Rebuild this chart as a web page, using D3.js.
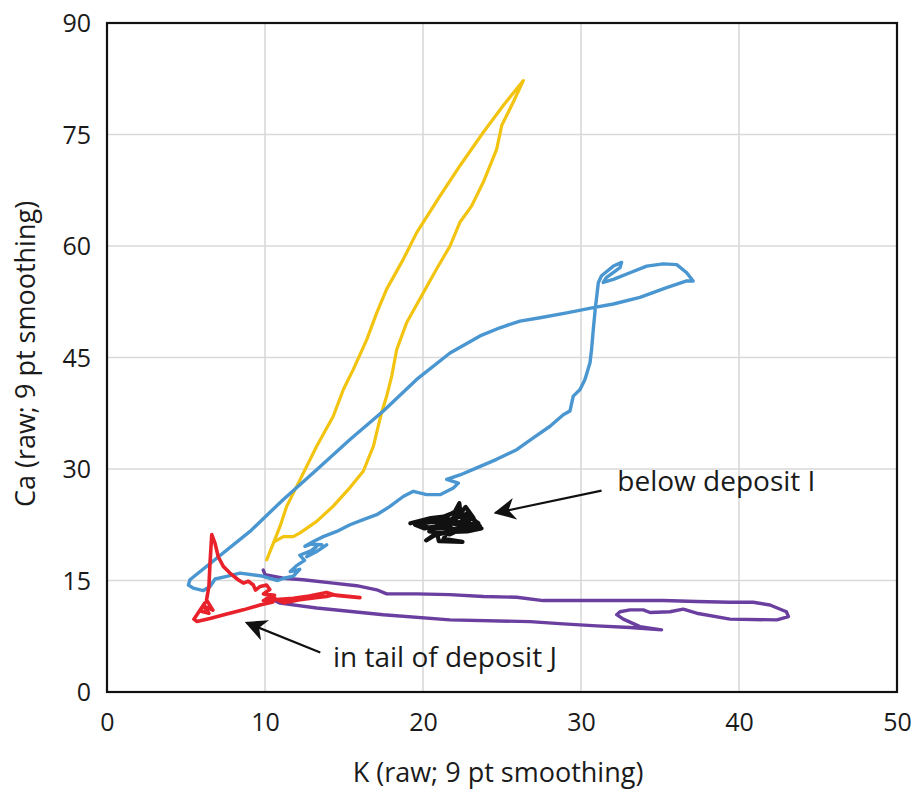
<!DOCTYPE html>
<html>
<head>
<meta charset="utf-8">
<script src="https://cdn.jsdelivr.net/npm/d3@7"></script>
<style>
  html, body { margin: 0; padding: 0; background: #fff; }
  svg { display: block; }
  text { font-family: "Open Sans", "Noto Sans", sans-serif; fill: #1a1a1a; }
</style>
</head>
<body>
<svg id="chart" width="922" height="794"></svg>
<script>
// ---------- data (K, Ca) ----------
const xTicks = [0, 10, 20, 30, 40, 50];
const yTicks = [0, 15, 30, 45, 60, 75, 90];
const xTitle = "K (raw; 9 pt smoothing)";
const yTitle = "Ca (raw; 9 pt smoothing)";

const yellowK  = [10.11,10.53,10.95,11.37,12.22,13.27,14.32,14.96,15.59,16.44,17.07,17.70,18.75,19.60,21.08,22.34,23.82,25.08,26.35,25.70,24.98,24.66,23.82,23.08,22.34,21.71,20.86,20.02,18.97,18.34,18.02,17.70,17.38,17.17,16.86,16.22,15.38,14.32,13.27,12.22,11.79,11.16,10.63];
const yellowCa = [17.79,20.04,22.28,24.97,28.57,33.06,37.10,40.70,43.40,47.40,51.00,54.20,58.20,61.80,66.75,70.80,75.30,78.90,82.25,79.30,76.20,73.00,68.60,65.40,63.20,60.00,56.90,53.70,49.70,46.10,42.50,39.80,37.60,35.80,33.06,29.70,27.50,25.00,22.95,21.40,20.90,20.90,20.25];

const blueK  = [13.90,13.27,12.64,13.27,12.90,12.20,12.50,12.00,11.60,12.20,11.80,11.20,10.80,9.80,8.42,7.58,6.84,6.52,6.10,5.46,5.15,5.25,9.05,11.16,13.27,15.38,17.49,19.60,21.71,23.61,24.87,26.14,27.41,29.10,30.78,32.05,33.73,35.42,36.69,37.10,36.69,36.06,35.20,34.16,33.10,32.05,31.41,31.60,32.47,32.57,32.05,31.30,31.10,31.00,30.90,30.78,30.67,30.57,30.25,29.94,29.51,29.30,28.88,28.04,26.98,25.93,24.66,23.40,22.34,21.50,22.24,21.92,21.08,20.23,19.39,18.75,17.91,17.07,16.22,15.38,14.54,13.69,13.06,12.53,12.90,13.60];
const blueCa = [19.80,18.90,18.20,19.60,19.00,18.40,17.70,17.00,16.20,16.50,15.60,15.30,15.00,15.60,16.00,15.55,15.20,14.20,13.65,13.97,14.40,15.10,21.60,25.90,29.90,33.96,37.80,42.05,45.60,47.90,49.00,49.90,50.35,51.00,51.70,52.20,53.10,54.40,55.30,55.30,56.40,57.50,57.60,57.30,56.40,55.50,55.10,55.75,57.10,57.80,57.30,56.00,55.10,53.30,51.50,48.80,46.10,44.30,42.05,40.70,39.80,37.80,37.30,35.75,34.20,32.60,31.30,30.15,29.20,28.60,28.10,27.45,26.55,26.55,27.00,26.30,24.97,23.85,23.20,22.50,21.60,20.90,20.25,19.60,19.90,19.80];

const purpleK  = [9.89,10.00,11.16,12.42,14.32,15.80,17.07,17.70,19.60,21.70,23.82,25.93,27.60,30.99,35.20,37.32,39.43,40.90,41.96,43.00,43.13,42.40,39.43,37.32,36.47,35.63,34.37,33.94,33.10,32.47,32.26,32.68,33.73,35.10,33.10,30.99,28.88,26.77,21.71,17.49,13.27,10.95,10.53];
const purpleCa = [16.40,15.80,15.30,15.10,14.65,14.30,13.75,13.20,13.20,13.10,12.85,12.75,12.30,12.30,12.30,12.17,12.08,12.08,11.70,10.80,10.15,9.70,9.80,10.60,11.15,10.80,10.70,11.05,11.05,10.80,10.40,9.80,8.80,8.36,8.67,8.90,9.16,9.47,9.70,10.40,11.30,11.95,12.40];

const redK  = [16.01,14.50,13.90,12.80,11.80,10.50,10.10,10.60,9.90,10.30,10.10,9.70,9.40,9.26,8.95,8.63,8.30,7.78,7.36,7.04,6.84,6.63,6.52,6.45,6.30,6.70,6.10,6.45,5.90,6.20,5.50,5.68,6.52,7.58,8.63,9.68,10.50,9.90,10.40,11.20,12.20,13.20,13.90,14.30,16.01];
const redCa = [12.70,13.00,13.40,12.90,12.60,12.40,12.60,13.00,13.20,13.80,14.40,14.20,13.70,14.40,14.90,14.65,15.10,16.00,16.90,18.20,20.00,21.16,17.35,14.20,12.40,11.00,11.60,10.60,10.90,12.00,9.80,9.50,9.90,10.50,11.05,11.70,12.10,12.30,12.80,12.00,12.40,12.70,12.85,13.07,12.70];

const blackK  = [19.20,20.50,21.30,22.00,22.30,22.40,22.90,23.30,23.60,22.60,21.60,20.30,19.60,20.80,21.90,22.60,23.00,23.70,22.80,21.50,20.60,20.20,20.90,21.00,22.50,21.30,21.80,22.20,23.20,22.70,22.00,21.00,20.10,19.50,20.60,21.40,22.10,22.90,23.50,22.40,21.20,20.40,21.70,22.80,22.30,21.10];
const blackCa = [22.70,23.40,23.60,24.20,25.40,23.50,24.20,23.00,22.30,22.00,21.90,22.20,22.60,22.90,23.30,23.80,22.60,22.00,21.60,21.50,21.00,20.40,21.30,20.30,20.20,20.60,22.60,22.80,23.40,24.90,23.00,22.40,22.00,22.50,23.10,22.20,23.90,23.60,22.70,22.40,23.00,21.60,21.20,22.30,24.60,23.20];

const seriesColors = ["#f2c30f", "#4a96d1", "#6a3fa0", "#e8212b", "#111111"];

// ---------- layout ----------
const L = 107, R = 897, T = 23, B = 692;

const svg = d3.select("#chart");
const x = d3.scaleLinear().domain([0, 50]).range([L, R]);
const y = d3.scaleLinear().domain([0, 90]).range([B, T]);

// grid
const g = svg.append("g");
g.selectAll("line.vx").data(xTicks.slice(1, -1)).join("line")
  .attr("x1", d => x(d)).attr("x2", d => x(d)).attr("y1", T).attr("y2", B)
  .attr("stroke", "#d9d9d9").attr("stroke-width", 1.6);
g.selectAll("line.hy").data(yTicks.slice(1, -1)).join("line")
  .attr("y1", d => y(d)).attr("y2", d => y(d)).attr("x1", L).attr("x2", R)
  .attr("stroke", "#d9d9d9").attr("stroke-width", 1.6);

// axes (labels only, no tick marks)
const xAxis = d3.axisBottom(x).tickValues(xTicks).tickSize(0).tickPadding(0);
const yAxis = d3.axisLeft(y).tickValues(yTicks).tickSize(0).tickPadding(0);
const xa = svg.append("g").attr("transform", `translate(0,${B})`).call(xAxis);
const ya = svg.append("g").attr("transform", `translate(${L},0)`).call(yAxis);
[xa, ya].forEach(a => { a.select(".domain").remove(); });
xa.selectAll("text").attr("font-size", 25).attr("dy", null).attr("y", 39)
  .attr("font-family", '"Open Sans", sans-serif').attr("fill", "#1a1a1a");
ya.selectAll("text").attr("font-size", 25).attr("dy", "0.35em").attr("x", -16)
  .attr("font-family", '"Open Sans", sans-serif').attr("fill", "#1a1a1a");

// series
const line = d3.line().x(d => x(d[0])).y(d => y(d[1]));
const allSeries = [
  d3.zip(yellowK, yellowCa),
  d3.zip(blueK, blueCa),
  d3.zip(purpleK, purpleCa),
  d3.zip(redK, redCa),
  d3.zip(blackK, blackCa)
];
const widths = [3.2, 3.4, 3.4, 3.6, 4.2];
[2, 0, 1, 3, 4].forEach(i => {
  svg.append("path").datum(allSeries[i])
    .attr("d", line)
    .attr("fill", "none")
    .attr("stroke", seriesColors[i])
    .attr("stroke-width", widths[i])
    .attr("stroke-linejoin", "round")
    .attr("stroke-linecap", "round");
});

// frame
svg.append("rect").attr("x", L).attr("y", T).attr("width", R - L).attr("height", B - T)
  .attr("fill", "none").attr("stroke", "#111").attr("stroke-width", 2.2);

// axis titles
svg.append("text").attr("x", 498).attr("y", 782).attr("text-anchor", "middle")
  .attr("font-size", 27).text(xTitle);
svg.append("text").attr("transform", `translate(35,354) rotate(-90)`)
  .attr("text-anchor", "middle").attr("font-size", 27).text(yTitle);

// annotations
const defs = svg.append("defs");
defs.append("marker").attr("id", "ah").attr("viewBox", "0 0 10 10")
  .attr("refX", 9).attr("refY", 5).attr("markerWidth", 22).attr("markerHeight", 22)
  .attr("markerUnits", "userSpaceOnUse").attr("orient", "auto")
  .append("path").attr("d", "M0,0 L10,5 L0,10 L3,5 Z").attr("fill", "#111");

const annotations = [
  { text: "below deposit I", tx: 32.3, ty: 27.1, from: [31.3, 27.1], to: [24.6, 24.1] },
  { text: "in tail of deposit J", tx: 14.3, ty: 3.3, from: [13.5, 5.3], to: [8.85, 9.3] }
];
annotations.forEach(a => {
  svg.append("line")
    .attr("x1", x(a.from[0])).attr("y1", y(a.from[1]))
    .attr("x2", x(a.to[0])).attr("y2", y(a.to[1]))
    .attr("stroke", "#111").attr("stroke-width", 2.2)
    .attr("marker-end", "url(#ah)");
  svg.append("text").attr("x", x(a.tx)).attr("y", y(a.ty))
    .attr("font-size", 28).text(a.text);
});
</script>
</body>
</html>
